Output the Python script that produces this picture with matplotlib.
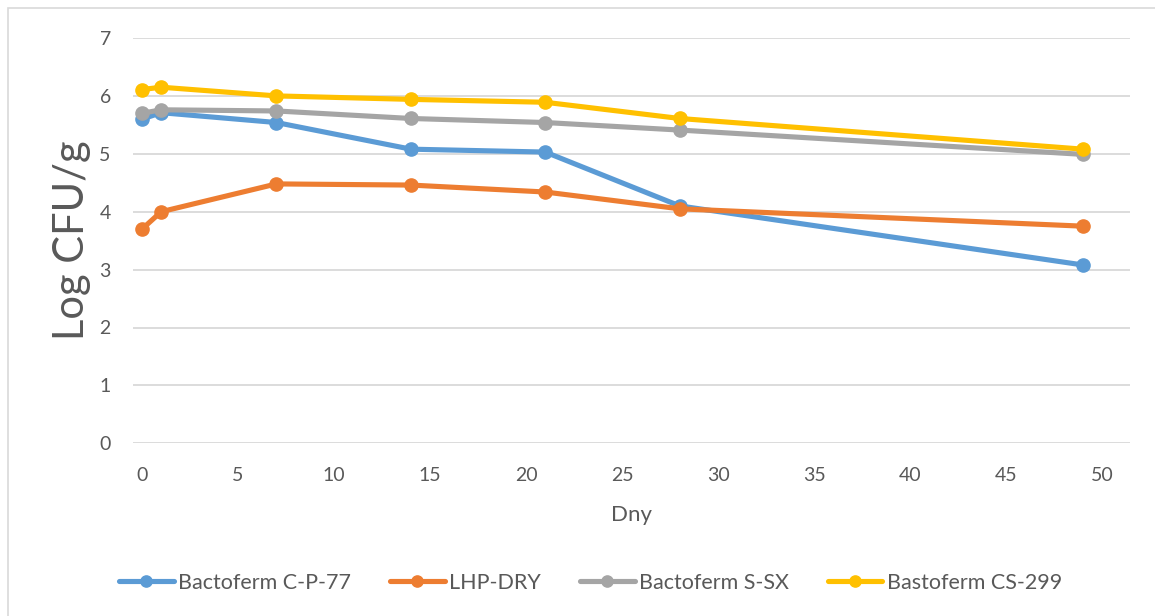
import numpy as np
import matplotlib
matplotlib.use('Agg')
import matplotlib.pyplot as plt
from matplotlib.patches import Rectangle

plt.rcParams['font.family'] = ['Lato', 'DejaVu Sans']

days = [0, 1, 7, 14, 21, 28, 49]
cp77 = [5.60, 5.71, 5.54, 5.08, 5.03, 4.10, 3.08]
lhp_dry = [3.70, 4.00, 4.48, 4.46, 4.34, 4.05, 3.75]
ssx = [5.70, 5.76, 5.74, 5.61, 5.54, 5.41, 4.99]
cs299 = [6.11, 6.15, 6.00, 5.94, 5.89, 5.61, 5.08]

names = ['Bactoferm C-P-77', 'LHP-DRY', 'Bactoferm S-SX', 'Bastoferm CS-299']
renk = ['#5B9BD5', '#ED7D31', '#A5A5A5', '#FFC000']
txt = '#595959'

fig = plt.figure(figsize=(11.55, 6.16), dpi=100, facecolor='w')
# outer chart border
fig.patches.append(Rectangle((8/1155, -0.1), 1.2, 1 - 8/616 + 0.1, transform=fig.transFigure,
                             fill=False, edgecolor='#D9D9D9', lw=1.2))

ax = fig.add_axes([133/1155, 1 - 443.3/616, (1130-133)/1155, (443.3-38)/616])
series = [cp77, lhp_dry, ssx, cs299]
for i in range(len(series)):
    ax.plot(days, series[i], color=renk[i], lw=3.7, marker='o', ms=9.5,
            label=names[i], zorder=3+i, solid_capstyle='round')

ax.set_xlim(-0.47, 51.45)
ax.set_ylim(0, 7)
ax.set_xticks(np.arange(0, 51, 5))
ax.set_yticks(np.arange(0, 8, 1))
ax.grid(axis='y', color='#D9D9D9', lw=1.3)
ax.set_axisbelow(True)
for s in ax.spines.values():
    s.set_visible(False)
ax.tick_params(length=0, labelsize=14, colors=txt)
ax.tick_params(axis='x', pad=17)
ax.tick_params(axis='y', pad=16)
ax.set_xlabel('Dny', fontsize=16, color=txt, labelpad=15)
ax.set_ylabel('Log CFU/g', fontsize=30, color=txt)
ax.yaxis.set_label_coords(-0.042, 0.5)

leg = fig.legend(loc='center', bbox_to_anchor=(0.5 + 13/1155, 1 - 583/616), ncol=4, frameon=False,
                 fontsize=15.5, handlelength=2.55, handletextpad=0.2, columnspacing=1.8,
                 markerscale=0.85)
for t in leg.get_texts():
    t.set_color(txt)

fig.savefig('out.png', dpi=100, facecolor='w')
